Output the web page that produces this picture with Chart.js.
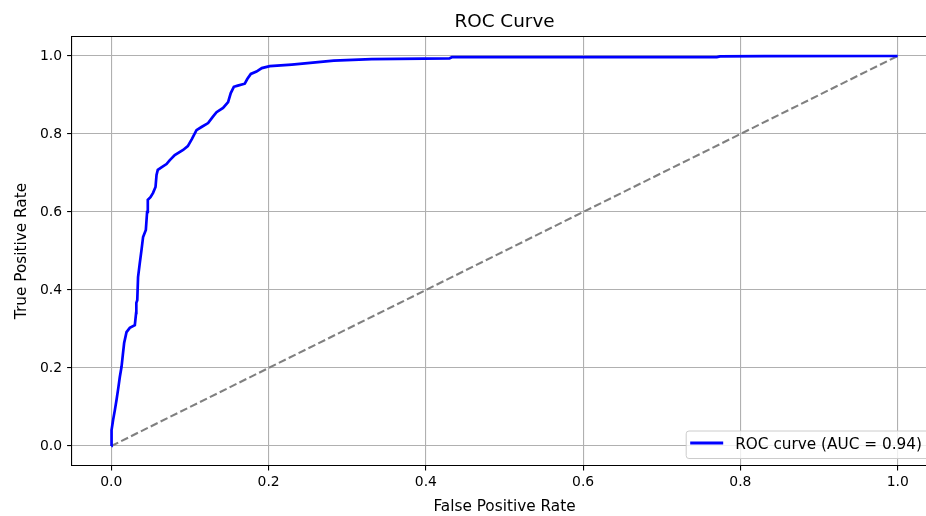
<!DOCTYPE html>
<html>
<head>
<meta charset="utf-8">
<script src="https://cdn.jsdelivr.net/npm/chart.js"></script>
<style>
  html, body { margin: 0; padding: 0; background: #fff; overflow: hidden; }
  #wrap { width: 926px; height: 516px; overflow: hidden; position: relative; }
  #rocChart { display: block; position: absolute; left: 0; top: 0; }
</style>
</head>
<body>
<div id="wrap"><canvas id="rocChart" width="950" height="516"></canvas></div>
<script>
// valores
const fpr = [0, 0.0003, 0.0013, 0.0023, 0.0045, 0.0066, 0.0089, 0.0108, 0.013, 0.0146,
  0.0163, 0.0193, 0.0235, 0.0299, 0.0315, 0.0318, 0.033, 0.034, 0.0362, 0.0384,
  0.0404, 0.0439, 0.0455, 0.0464, 0.0498, 0.0531, 0.0562, 0.0575, 0.0591, 0.0642,
  0.0702, 0.0744, 0.0807, 0.0913, 0.0973, 0.1024, 0.1083, 0.1147, 0.1231, 0.129,
  0.1338, 0.1421, 0.1485, 0.1519, 0.1558, 0.1608, 0.1697, 0.1729, 0.1774, 0.1846,
  0.1914, 0.2015, 0.2295, 0.2829, 0.331, 0.430, 0.433, 0.770, 0.774, 0.831, 1.0];
const tpr = [0, 0.041, 0.054, 0.067, 0.092, 0.118, 0.149, 0.177, 0.203, 0.233,
  0.264, 0.292, 0.303, 0.310, 0.341, 0.367, 0.374, 0.433, 0.469, 0.503,
  0.536, 0.554, 0.600, 0.631, 0.638, 0.649, 0.664, 0.695, 0.708, 0.715,
  0.723, 0.733, 0.746, 0.759, 0.769, 0.787, 0.810, 0.818, 0.828, 0.844,
  0.856, 0.867, 0.882, 0.905, 0.921, 0.924, 0.929, 0.941, 0.954, 0.960,
  0.969, 0.974, 0.978, 0.988, 0.992, 0.994, 0.997, 0.997, 0.999, 0.9995, 1.0];
const diagX = [0, 1];
const diagY = [0, 1];
const xTicks = [0.0, 0.2, 0.4, 0.6, 0.8, 1.0];
const yTicks = [0.0, 0.2, 0.4, 0.6, 0.8, 1.0];
const curveLabel = 'ROC curve (AUC = 0.94)';
const titleText = 'ROC Curve';

const FONT = 'DejaVu Sans';

// título centrado sobre el área del gráfico, marco superior y leyenda
const extras = {
  id: 'extras',
  afterDraw(chart) {
    const { ctx, chartArea: a } = chart;
    ctx.save();
    // marco arriba
    ctx.strokeStyle = '#000';
    ctx.lineWidth = 1.1;
    ctx.beginPath();
    ctx.moveTo(a.left, a.top);
    ctx.lineTo(a.right, a.top);
    ctx.stroke();

    // título
    ctx.fillStyle = '#000';
    ctx.font = '18.4px "' + FONT + '"';
    ctx.textAlign = 'center';
    ctx.textBaseline = 'alphabetic';
    ctx.fillText(titleText, (a.left + a.right) / 2, 27.3);

    // leyenda abajo a la derecha
    ctx.font = '15.3px "' + FONT + '"';
    const tw = ctx.measureText(curveLabel).width;
    const boxRight = a.right - 7;
    const boxBottom = a.bottom - 7;
    const boxTop = boxBottom - 27.5;
    const textX = boxRight - 8 - tw;
    const boxLeft = textX - 49;
    const r = 2.8;
    ctx.beginPath();
    ctx.moveTo(boxLeft + r, boxTop);
    ctx.arcTo(boxRight, boxTop, boxRight, boxBottom, r);
    ctx.arcTo(boxRight, boxBottom, boxLeft, boxBottom, r);
    ctx.arcTo(boxLeft, boxBottom, boxLeft, boxTop, r);
    ctx.arcTo(boxLeft, boxTop, boxRight, boxTop, r);
    ctx.closePath();
    ctx.fillStyle = 'rgba(255,255,255,0.8)';
    ctx.fill();
    ctx.strokeStyle = '#cccccc';
    ctx.lineWidth = 1;
    ctx.stroke();

    const midY = boxTop + 12;
    ctx.strokeStyle = '#0000ff';
    ctx.lineWidth = 2.8;
    ctx.beginPath();
    ctx.moveTo(textX - 45, midY);
    ctx.lineTo(textX - 12, midY);
    ctx.stroke();

    ctx.fillStyle = '#000';
    ctx.textAlign = 'left';
    ctx.textBaseline = 'alphabetic';
    ctx.fillText(curveLabel, textX, boxTop + 18.3);
    ctx.restore();
  }
};

const ctx = document.getElementById('rocChart').getContext('2d');
new Chart(ctx, {
  type: 'line',
  data: {
    datasets: [
      {
        label: curveLabel,
        data: fpr.map((x, i) => ({ x: x, y: tpr[i] })),
        borderColor: '#0000ff',
        borderWidth: 2.7,
        pointRadius: 0,
        fill: false,
        tension: 0
      },
      {
        label: 'diagonal',
        data: diagX.map((x, i) => ({ x: x, y: diagY[i] })),
        borderColor: '#808080',
        borderWidth: 2.1,
        borderDash: [7.7, 3.3],
        pointRadius: 0,
        fill: false
      }
    ]
  },
  options: {
    responsive: false,
    animation: false,
    events: [],
    // el área del gráfico sigue más allá del borde visible, como en la imagen
    layout: { padding: { left: 0, top: 36.5, right: 13, bottom: 0 } },
    plugins: {
      legend: { display: false },
      title: { display: false },
      tooltip: { enabled: false }
    },
    scales: {
      x: {
        type: 'linear',
        min: -0.05,
        max: 1.05,
        afterBuildTicks: (scale) => { scale.ticks = xTicks.map(v => ({ value: v })); },
        afterFit: (scale) => { scale.height = 50.5; },
        grid: { color: '#b0b0b0', lineWidth: 1.1, tickColor: '#000', tickLength: 4.9, tickWidth: 1.1 },
        border: { display: true, color: '#000', width: 1.1 },
        ticks: {
          color: '#000',
          padding: 4,
          maxRotation: 0,
          font: { family: FONT, size: 13.9 },
          callback: (v) => Number(v).toFixed(1)
        },
        title: {
          display: true,
          text: 'False Positive Rate',
          color: '#000',
          font: { family: FONT, size: 15.3 },
          padding: { top: 0, bottom: 0 }
        }
      },
      y: {
        type: 'linear',
        min: -0.05,
        max: 1.05,
        afterBuildTicks: (scale) => { scale.ticks = yTicks.map(v => ({ value: v })); },
        afterFit: (scale) => { scale.width = 72; },
        grid: { color: '#b0b0b0', lineWidth: 1.1, tickColor: '#000', tickLength: 4.9, tickWidth: 1.1 },
        border: { display: true, color: '#000', width: 1.1 },
        ticks: {
          color: '#000',
          padding: 5,
          font: { family: FONT, size: 13.9 },
          callback: (v) => Number(v).toFixed(1)
        },
        title: {
          display: true,
          text: 'True Positive Rate',
          color: '#000',
          font: { family: FONT, size: 15.3 },
          padding: { top: 12.8, bottom: 0 }
        }
      }
    }
  },
  plugins: [extras]
});
</script>
</body>
</html>
